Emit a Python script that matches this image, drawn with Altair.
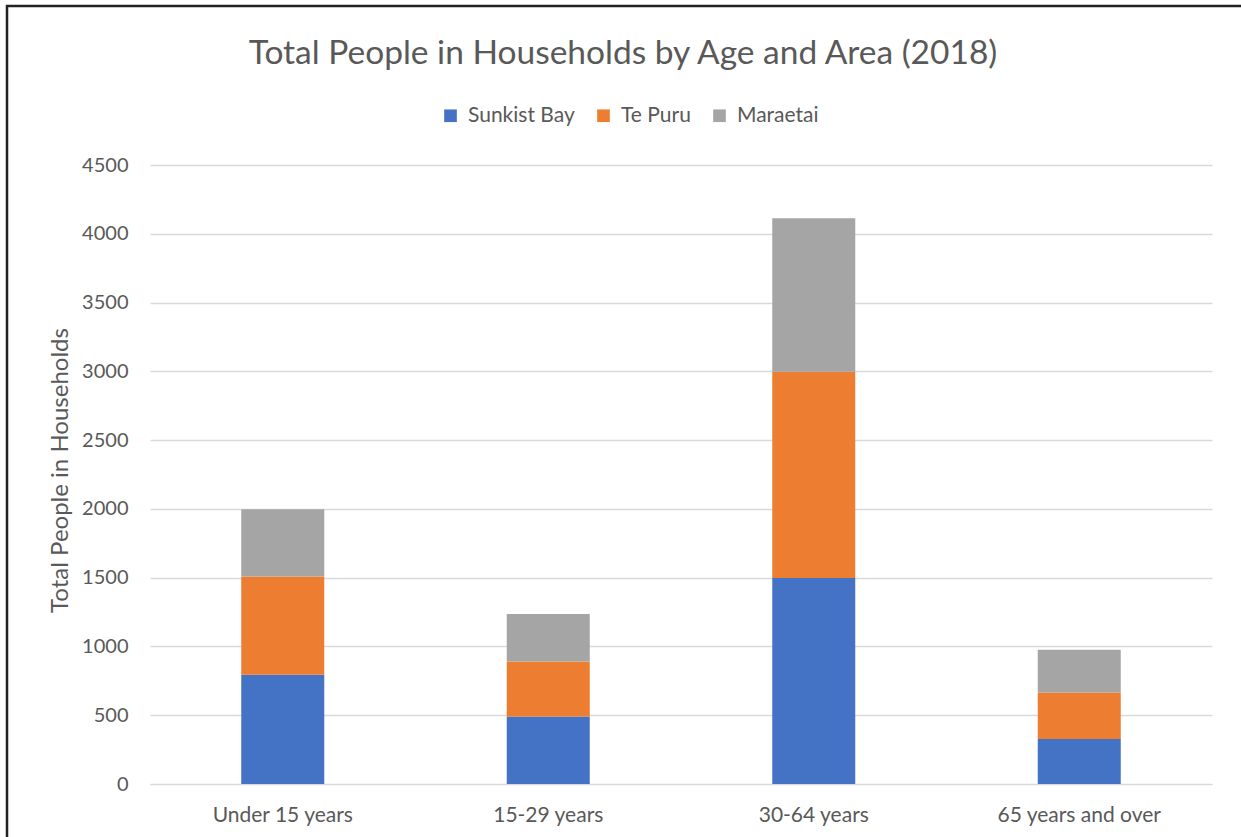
import altair as alt
import pandas as pd

ages = ["Under 15 years", "15-29 years", "30-64 years", "65 years and over"]
areas = ["Sunkist Bay", "Te Puru", "Maraetai"]
sunkist_bay = [794, 490, 1498, 328]
te_puru = [715, 401, 1499, 337]
maraetai = [488, 345, 1116, 311]
colors = ["#4472C4", "#ED7D31", "#A5A5A5"]

rows = []
for series_idx, (area, vals) in enumerate(zip(areas, [sunkist_bay, te_puru, maraetai])):
    for age, v in zip(ages, vals):
        rows.append({"Age": age, "Area": area, "Value": v, "order": series_idx})
df = pd.DataFrame(rows)

FONT = "Lato"
W, H = 1062, 619

bars = alt.Chart(df).mark_bar(size=83).encode(
    x=alt.X("Age:N", sort=ages, title=None,
            scale=alt.Scale(paddingInner=0, paddingOuter=0),
            axis=alt.Axis(labelAngle=0, labelFontSize=21, labelColor="#595959",
                          labelFont=FONT, ticks=False, domain=True, domainColor="#D9D9D9",
                          labelPadding=20, grid=False)),
    y=alt.Y("Value:Q", stack="zero", title="Total People in Households",
            scale=alt.Scale(domain=[0, 4500], nice=False),
            axis=alt.Axis(values=list(range(0, 4501, 500)), format="d", labelFontSize=20,
                          labelColor="#595959", labelFont=FONT, ticks=False,
                          domain=False, gridColor="#D9D9D9", gridWidth=1.3,
                          labelPadding=22, titleFont=FONT, titleFontSize=24,
                          titleFontWeight="normal", titleColor="#595959",
                          titleX=-90, titleY=305, titleAngle=-90,
                          titleAlign="center", titleBaseline="middle")),
    color=alt.Color("Area:N", sort=areas,
                    scale=alt.Scale(domain=areas, range=colors),
                    legend=alt.Legend(title=None, orient="none", direction="horizontal",
                                      legendX=290, legendY=-60, symbolType="square",
                                      symbolSize=160, symbolStrokeWidth=0,
                                      labelFontSize=21, labelColor="#595959",
                                      labelFont=FONT, columnPadding=18, labelOffset=7)),
    order=alt.Order("order:Q"),
)

border = alt.Chart(pd.DataFrame({"a": [0]})).mark_rect(
    fill=None, stroke="#222222", strokeWidth=2.5
).encode(
    x=alt.value(-143), x2=alt.value(1200), y=alt.value(-159), y2=alt.value(800)
)

chart = alt.layer(bars, border).properties(
    width=W, height=H,
    title=alt.TitleParams("Total People in Households by Age and Area (2018)",
                          font=FONT, fontSize=33.5, fontWeight="normal", color="#595959",
                          anchor="middle", dx=-58, offset=-67),
    padding={"left": 150, "top": 165, "right": 29, "bottom": 53},
    autosize=alt.AutoSizeParams(type="none"),
).configure(background="white").configure_view(stroke=None)

chart.save("out.html", embed_options={"renderer": "svg", "actions": False})
